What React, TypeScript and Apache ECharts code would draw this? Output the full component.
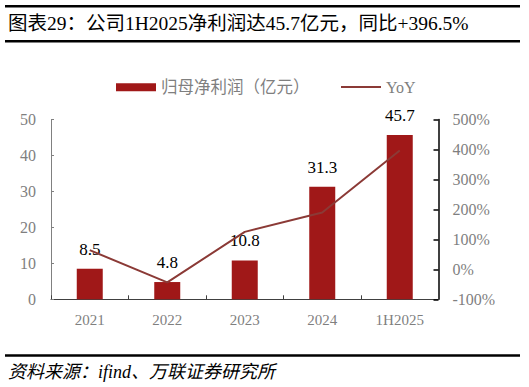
import React, { useEffect, useRef } from "react";
import * as echarts from "echarts";

const categories = ["2021", "2022", "2023", "2024", "1H2025"];
const profitValues = [8.5, 4.8, 10.8, 31.3, 45.7];
const yoyValues = [64, -43.5, 125, 189.8, 396.5];
const leftTicks = { min: 0, max: 50, interval: 10 };
const rightTicks = { min: -100, max: 500, interval: 100 };
const titleText = "图表29：公司1H2025净利润达45.7亿元，同比+396.5%";
const sourceText = "资料来源：ifind、万联证券研究所";
const barName = "归母净利润（亿元）";
const lineName = "YoY";

const SERIF = "'Liberation Serif', 'DejaVu Serif', 'Noto Sans CJK SC', serif";
const CJK = "'Liberation Serif', 'Noto Sans CJK SC', serif";

export default function App() {
  const ref = useRef<HTMLDivElement>(null);
  useEffect(() => {
    if (!ref.current) return;
    const chart = echarts.init(ref.current, undefined, { renderer: "svg" });
    chart.setOption({
      animation: false,
      backgroundColor: "#ffffff",
      title: {
        text: titleText,
        left: 8,
        top: 13.5,
        padding: 0,
        textStyle: { fontFamily: CJK, fontSize: 19.5, fontWeight: "normal", color: "#000" },
      },
      graphic: [
        { type: "rect", shape: { x: 5, y: 5, width: 515, height: 2.5 }, style: { fill: "#000" } },
        { type: "rect", shape: { x: 5, y: 40, width: 515, height: 2.5 }, style: { fill: "#000" } },
        { type: "rect", shape: { x: 5, y: 354.3, width: 515, height: 2.4 }, style: { fill: "#000" } },
        {
          type: "text",
          x: 8,
          y: 372,
          style: {
            text: sourceText,
            fontFamily: CJK,
            fontStyle: "italic",
            fontSize: 18,
            fill: "#000",
            verticalAlign: "middle",
            align: "left",
          },
        },
      ],
      legend: [
        {
          left: 111,
          top: 74,
          itemWidth: 40,
          itemHeight: 8,
          textStyle: { fontFamily: CJK, fontSize: 16.5, color: "#7f7f7f" },
          data: [{ name: barName, icon: "rect" }],
        },
        {
          left: 336,
          top: 74,
          itemWidth: 40,
          itemHeight: 2,
          textStyle: { fontFamily: CJK, fontSize: 16, color: "#7f7f7f", lineHeight: 16 },
          data: [{ name: lineName, icon: "rect" }],
        },
      ],
      grid: { left: 51, right: 90.5, top: 119.5, bottom: 87.7, containLabel: false },
      xAxis: {
        type: "category",
        data: categories,
        boundaryGap: true,
        axisLine: { lineStyle: { color: "#404040", width: 1 } },
        axisTick: { show: true, inside: true, length: 4, lineStyle: { color: "#404040" } },
        axisLabel: { fontFamily: SERIF, fontSize: 15, color: "#7f7f7f", margin: 13 },
      },
      yAxis: [
        {
          type: "value",
          position: "left",
          min: leftTicks.min,
          max: leftTicks.max,
          interval: leftTicks.interval,
          splitLine: { show: false },
          axisLine: { show: true, lineStyle: { color: "#808080", width: 1 } },
          axisTick: { show: true, inside: true, length: 3, lineStyle: { color: "#808080" } },
          axisLabel: { fontFamily: SERIF, fontSize: 16, color: "#7f7f7f", margin: 15 },
        },
        {
          type: "value",
          position: "right",
          min: rightTicks.min,
          max: rightTicks.max,
          interval: rightTicks.interval,
          splitLine: { show: false },
          axisLine: { show: true, lineStyle: { color: "#000", width: 1.5 } },
          axisTick: { show: true, inside: true, length: 5, lineStyle: { color: "#000", width: 1.5 } },
          axisLabel: { fontFamily: SERIF, fontSize: 16, color: "#7f7f7f", margin: 14, formatter: "{value}%" },
        },
      ],
      series: [
        {
          name: barName,
          type: "bar",
          yAxisIndex: 0,
          data: profitValues,
          barWidth: 26,
          itemStyle: { color: "#a01818" },
          label: {
            show: true,
            position: "top",
            distance: 11,
            fontFamily: SERIF,
            fontSize: 17,
            color: "#000",
          },
        },
        {
          name: lineName,
          type: "line",
          yAxisIndex: 1,
          data: yoyValues,
          symbol: "none",
          lineStyle: { color: "#8b3a36", width: 2 },
          itemStyle: { color: "#8b3a36" },
        },
      ],
    });
    return () => chart.dispose();
  }, []);
  return (
    <div
      ref={ref}
      style={{ position: "fixed", left: 0, top: 0, width: 529, height: 387 }}
    />
  );
}
